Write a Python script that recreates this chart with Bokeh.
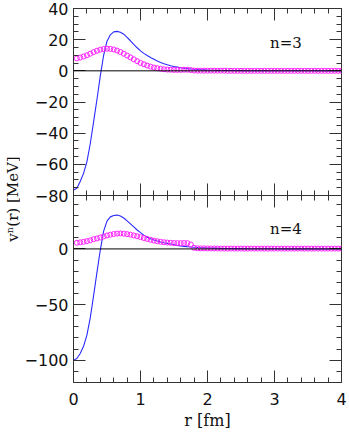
from bokeh.plotting import figure
from bokeh.models import Range1d, LinearAxis, Label, FixedTicker, Span, Title
from bokeh.layouts import row, column
from bokeh.embed import file_html
from bokeh.resources import INLINE

# ---------------- data ----------------
r_line = [0.00, 0.05, 0.10, 0.15, 0.20, 0.25, 0.30, 0.35, 0.40, 0.45,
          0.50, 0.55, 0.60, 0.65, 0.70, 0.75, 0.80, 0.85, 0.90, 0.95,
          1.00, 1.05, 1.10, 1.15, 1.20, 1.25, 1.30, 1.35, 1.40, 1.45,
          1.50, 1.55, 1.60, 1.65, 1.70, 1.75, 1.80, 1.85, 1.90, 1.95,
          2.00, 2.10, 2.20, 2.30, 2.40, 2.50, 2.60, 2.80, 3.00, 3.20,
          3.50, 4.00]
v3_line = [-76.5, -75.3, -71.0, -65.8, -58.4, -46.8, -32.8, -18.4, -3.2, 10.0,
           19.0, 23.1, 25.0, 25.3, 24.8, 23.5, 21.5, 19.3, 17.0, 14.8,
           12.8, 11.2, 9.8, 8.5, 7.4, 6.3, 5.4, 4.6, 3.9, 3.3,
           2.8, 2.4, 2.0, 1.7, 1.4, 1.2, 1.0, 0.85, 0.7, 0.6,
           0.5, 0.4, 0.3, 0.25, 0.2, 0.15, 0.1, 0.07, 0.05, 0.03,
           0.01, 0.0]
v4_line = [-100.0, -98.5, -94.0, -87.5, -77.5, -62.0, -42.0, -21.0, -1.0, 16.0,
           25.0, 28.8, 30.0, 30.4, 29.6, 27.8, 25.2, 22.5, 19.8, 17.0,
           14.6, 12.4, 10.5, 9.2, 8.0, 7.1, 6.3, 5.6, 5.0, 4.4,
           3.8, 3.2, 2.7, 2.3, 2.0, 1.7, 1.5, 1.3, 1.1, 1.0,
           0.9, 0.7, 0.5, 0.4, 0.3, 0.25, 0.2, 0.12, 0.1, 0.05,
           0.02, 0.0]

r_pts = [0.05, 0.10, 0.15, 0.20, 0.25, 0.30, 0.35, 0.40, 0.45, 0.50,
         0.55, 0.60, 0.65, 0.70, 0.75, 0.80, 0.85, 0.90, 0.95, 1.00,
         1.05, 1.10, 1.15, 1.20, 1.25, 1.30, 1.35, 1.40, 1.45, 1.50,
         1.55, 1.60, 1.65, 1.70, 1.75, 1.80, 1.85, 1.90, 1.95, 2.00,
         2.05, 2.10, 2.15, 2.20, 2.25, 2.30, 2.35, 2.40, 2.45, 2.50,
         2.55, 2.60, 2.65, 2.70, 2.75, 2.80, 2.85, 2.90, 2.95, 3.00,
         3.05, 3.10, 3.15, 3.20, 3.25, 3.30, 3.35, 3.40, 3.45, 3.50,
         3.55, 3.60, 3.65, 3.70, 3.75, 3.80, 3.85, 3.90, 3.95, 4.00]
v3_pts = [8.0, 8.5, 9.2, 10.0, 11.0, 12.0, 12.9, 13.6, 14.0, 14.2,
          14.1, 13.7, 13.0, 12.1, 11.0, 9.8, 8.6, 7.4, 6.2, 5.1,
          4.2, 3.4, 2.7, 2.1, 1.7, 1.3, 1.0, 0.8, 0.7, 0.6,
          0.6, 0.6, 0.7, 0.7, 0.5, 0.2, 0.1, 0.1, 0.1, 0.1,
          0.1, 0.1, 0.1, 0.1, 0.1, 0.0, 0.0, 0.0, 0.0, 0.0,
          0.0, 0.0, 0.0, 0.0, 0.0, 0.0, 0.0, 0.0, 0.0, 0.0,
          0.0, 0.0, 0.0, 0.0, 0.0, 0.0, 0.0, 0.0, 0.0, 0.0,
          0.0, 0.0, 0.0, 0.0, 0.0, 0.0, 0.0, 0.0, 0.0, 0.0]
v4_pts = [5.5, 5.9, 6.4, 7.0, 7.7, 8.7, 9.4, 10.3, 11.2, 12.1,
          12.8, 13.4, 13.8, 13.9, 13.7, 13.3, 12.8, 12.1, 11.4, 10.6,
          9.8, 9.0, 8.2, 7.5, 6.9, 6.4, 6.0, 5.7, 5.5, 5.3,
          5.2, 5.2, 5.3, 5.2, 4.0, 1.0, 0.6, 0.5, 0.5, 0.4,
          0.4, 0.4, 0.4, 0.3, 0.3, 0.3, 0.3, 0.3, 0.3, 0.3,
          0.3, 0.3, 0.3, 0.3, 0.3, 0.3, 0.3, 0.3, 0.3, 0.3,
          0.3, 0.3, 0.3, 0.3, 0.3, 0.3, 0.3, 0.3, 0.3, 0.3,
          0.3, 0.3, 0.3, 0.3, 0.3, 0.3, 0.3, 0.3, 0.3, 0.3]

x_major = [0, 1, 2, 3, 4]
x_minor = [0.0, 0.2, 0.4, 0.6, 0.8, 1.0, 1.2, 1.4, 1.6, 1.8, 2.0,
           2.2, 2.4, 2.6, 2.8, 3.0, 3.2, 3.4, 3.6, 3.8, 4.0]
y3_major = [-80, -60, -40, -20, 0, 20, 40]
y3_minor = [-80, -75, -70, -65, -60, -55, -50, -45, -40, -35, -30, -25, -20,
            -15, -10, -5, 0, 5, 10, 15, 20, 25, 30, 35, 40]
y3_labels = {-80: "\u221280", -60: "\u221260", -40: "\u221240", -20: "\u221220",
             0: "0", 20: "20", 40: "40"}
y4_major = [-100, -50, 0]
y4_minor = [-120, -110, -100, -90, -80, -70, -60, -50, -40, -30, -20, -10,
            0, 10, 20, 30, 40]
y4_labels = {-100: "\u2212100", -50: "\u221250", 0: "0"}
x_labels = {0: "0", 1: "1", 2: "2", 3: "3", 4: "4"}

BLUE = "#2a2aff"
MAGENTA = "#ff20ff"
TICK = "#333333"
SANS = "DejaVu Sans"
SERIF = "DejaVu Serif"
OVERLAP = 12


def setup_axis(ax, ticks, minor, labels=None, standoff=5):
    ax.ticker = FixedTicker(ticks=ticks, minor_ticks=minor)
    ax.axis_line_color = None
    ax.major_tick_in = 12
    ax.major_tick_out = 0
    ax.minor_tick_in = 5
    ax.minor_tick_out = 0
    ax.major_tick_line_color = TICK
    ax.minor_tick_line_color = TICK
    ax.major_tick_line_width = 1
    ax.minor_tick_line_width = 1
    if labels is None:
        ax.major_label_text_font_size = "0px"
        ax.major_label_standoff = 0
        ax.major_label_text_alpha = 0
    else:
        ax.major_label_overrides = labels
        ax.major_label_text_font = SANS
        ax.major_label_text_font_size = "16px"
        ax.major_label_text_color = "#111111"
        ax.major_label_standoff = standoff


def make_fig(y0, y1, border_top, border_bottom):
    p = figure(frame_width=268, frame_height=187,
               x_range=Range1d(0, 4), y_range=Range1d(y0, y1),
               output_backend="svg", toolbar_location=None,
               x_axis_location=None, y_axis_location=None,
               min_border_left=53, min_border_right=8,
               min_border_top=border_top, min_border_bottom=border_bottom)
    p.xgrid.visible = False
    p.ygrid.visible = False
    p.outline_line_color = TICK
    p.outline_line_width = 1
    return p


# ---------------- top panel (n=3) ----------------
p1 = make_fig(-80, 40, 8, OVERLAP)
ax = LinearAxis(); setup_axis(ax, y3_major, y3_minor, y3_labels); p1.add_layout(ax, "left")
ax = LinearAxis(); setup_axis(ax, y3_major, y3_minor); p1.add_layout(ax, "right")
ax = LinearAxis(); setup_axis(ax, x_major, x_minor); p1.add_layout(ax, "above")
ax = LinearAxis(); setup_axis(ax, x_major, x_minor); p1.add_layout(ax, "below")
p1.add_layout(Span(location=0, dimension="width", line_color="black", line_width=1))
p1.line(r_line, v3_line, line_color=BLUE, line_width=1.1)
p1.scatter(r_pts, v3_pts, marker="circle", size=5, fill_color=None,
           line_color=MAGENTA, line_width=1)
p1.add_layout(Label(x=3.17, y=18, text="n=3", text_font=SERIF, text_font_size="15px",
                    text_align="center", text_baseline="middle", text_color="#111111"))

# ---------------- bottom panel (n=4) ----------------
p2 = make_fig(-120, 48, 0, 45)
p2.border_fill_color = None
ax = LinearAxis(); setup_axis(ax, y4_major, y4_minor, y4_labels); p2.add_layout(ax, "left")
ax = LinearAxis(); setup_axis(ax, y4_major, y4_minor); p2.add_layout(ax, "right")
ax = LinearAxis(); setup_axis(ax, x_major, x_minor); p2.add_layout(ax, "above")
ax = LinearAxis(); setup_axis(ax, x_major, x_minor, x_labels, standoff=10)
p2.add_layout(ax, "below")
p2.add_layout(Title(text="r [fm]", align="center", offset=11, standoff=2,
                    text_font=SERIF, text_font_size="16px", text_font_style="normal",
                    text_color="#111111"), "below")
p2.add_layout(Span(location=0, dimension="width", line_color="black", line_width=1))
p2.line(r_line, v4_line, line_color=BLUE, line_width=1.1)
p2.scatter(r_pts, v4_pts, marker="circle", size=5, fill_color=None,
           line_color=MAGENTA, line_width=1)
p2.add_layout(Label(x=3.17, y=17.6, text="n=4", text_font=SERIF, text_font_size="15px",
                    text_align="center", text_baseline="middle", text_color="#111111"))
p2.margin = (-OVERLAP, 0, 0, 0)

# ---------------- y-axis title ----------------
H = 427
lab = figure(width=20, height=H, x_range=Range1d(0, 20), y_range=Range1d(0, H),
             output_backend="svg", toolbar_location=None,
             x_axis_location=None, y_axis_location=None, min_border=0)
lab.xgrid.visible = False
lab.ygrid.visible = False
lab.outline_line_color = None
lab.add_layout(Label(x=12, y=H - 198.5, text="v\u207f(r) [MeV]", text_font=SERIF,
                     text_font_size="15px", angle=90, angle_units="deg",
                     text_align="center", text_baseline="middle", text_color="#111111"))

layout = row(lab, column(p1, p2))

open("out.html", "w").write(file_html(layout, INLINE))
